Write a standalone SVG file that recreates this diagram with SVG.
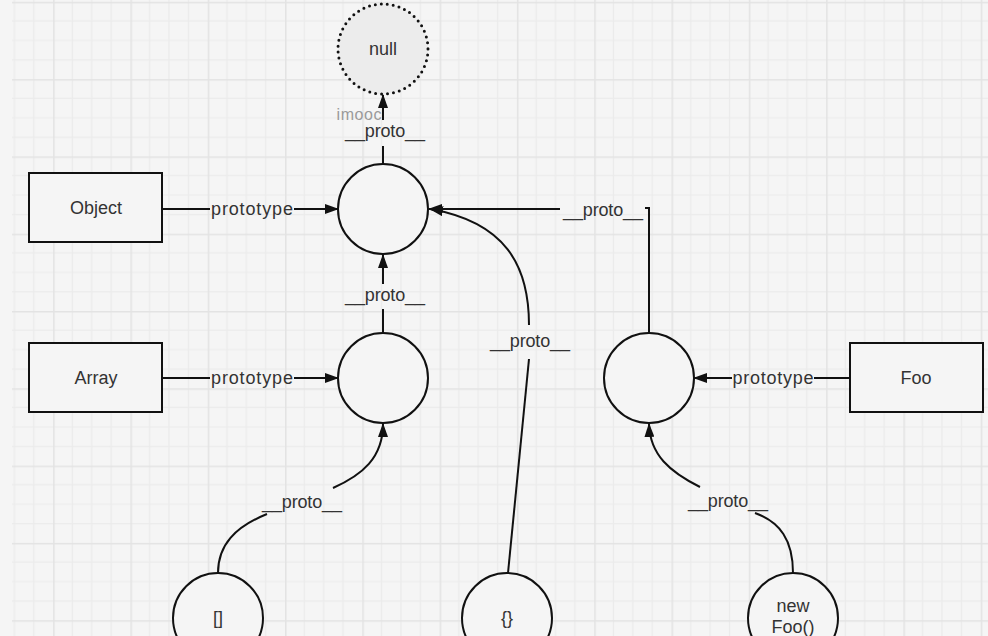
<svg xmlns="http://www.w3.org/2000/svg" width="988" height="636" viewBox="0 0 988 636">
  <defs>
    <pattern id="grid" patternUnits="userSpaceOnUse" x="-24.2" y="1.8" width="77.3" height="77.3">
      <rect width="77.3" height="77.3" fill="#f5f5f5"/>
      <path d="M19.3 0V77.3M38.65 0V77.3M58 0V77.3M0 19.3H77.3M0 38.65H77.3M0 58H77.3" stroke="#ebebeb" stroke-width="1.2" fill="none"/>
      <path d="M0.75 0V77.3M0 0.75H77.3" stroke="#e3e3e3" stroke-width="1.5" fill="none"/>
    </pattern>
    <marker id="ah" viewBox="0 0 14 10" refX="13" refY="5" markerWidth="14" markerHeight="10" orient="auto" markerUnits="userSpaceOnUse">
      <path d="M0,0 L14,5 L0,10 z" fill="#111"/>
    </marker>
  </defs>
  <style>
    .node { fill: #f5f5f5; stroke: #111; stroke-width: 2; }
    .txt { font-family: "Liberation Sans", Arial, "Noto Sans", sans-serif; font-size: 18px; fill: #333; text-anchor: middle; }
    .lbl { font-family: "Liberation Sans", Arial, "Noto Sans", sans-serif; font-size: 18px; fill: #333; text-anchor: middle; }
    .edge { fill: none; stroke: #111; stroke-width: 2; }
  </style>

  <rect x="0" y="0" width="988" height="636" fill="#f5f5f5"/>
  <rect x="12" y="0" width="976" height="636" fill="url(#grid)"/>

  <g id="connectors">
    <!-- Object -> Object.prototype -->
    <path class="edge" d="M162 209H210"/>
    <path class="edge" d="M294 209H338" marker-end="url(#ah)"/>
    <text class="lbl" x="252" y="215" textLength="82">prototype</text>
    <!-- Array -> Array.prototype -->
    <path class="edge" d="M162 378H210"/>
    <path class="edge" d="M294 378H338" marker-end="url(#ah)"/>
    <text class="lbl" x="252" y="384" textLength="82">prototype</text>
    <!-- Foo -> Foo.prototype -->
    <path class="edge" d="M850 378H814"/>
    <path class="edge" d="M732 378H694" marker-end="url(#ah)"/>
    <text class="lbl" x="773" y="384" textLength="81">prototype</text>
    <!-- Object.prototype -> null -->
    <path class="edge" d="M383 164V146"/>
    <path class="edge" d="M383 120V95" marker-end="url(#ah)"/>
    <text class="lbl" x="385" y="137" textLength="80">__proto__</text>
    <!-- Array.prototype -> Object.prototype -->
    <path class="edge" d="M383 333V309"/>
    <path class="edge" d="M383 284V255" marker-end="url(#ah)"/>
    <text class="lbl" x="385" y="301" textLength="80">__proto__</text>
    <!-- Foo.prototype -> Object.prototype -->
    <path class="edge" d="M649 333V208H645"/>
    <path class="edge" d="M560 209H429" marker-end="url(#ah)"/>
    <text class="lbl" x="603" y="216" textLength="80">__proto__</text>
    <!-- {} -> Object.prototype -->
    <path class="edge" d="M508 573L529 359"/>
    <path class="edge" d="M529 325C529 265 505 222 430 209" marker-end="url(#ah)"/>
    <text class="lbl" x="530" y="347" textLength="80">__proto__</text>
    <!-- [] -> Array.prototype -->
    <path class="edge" d="M218 573C218 545 235 527 267 514"/>
    <path class="edge" d="M333 488C362 475 383 458 383 424" marker-end="url(#ah)"/>
    <text class="lbl" x="302" y="508" textLength="80">__proto__</text>
    <!-- new Foo() -> Foo.prototype -->
    <path class="edge" d="M793 573C793 540 780 522 755 513"/>
    <path class="edge" d="M700 487C670 472 650 455 649 424" marker-end="url(#ah)"/>
    <text class="lbl" x="728" y="507" textLength="80">__proto__</text>
  </g>

  <g id="null">
    <circle cx="383" cy="49" r="45" fill="#ececec" stroke="#111" stroke-width="3" stroke-dasharray="0 6" stroke-linecap="round"/>
    <text class="txt" x="383" y="55">null</text>
  </g>
  <g id="object">
    <rect class="node" x="29" y="173" width="133" height="69"/>
    <text class="txt" x="96" y="214">Object</text>
  </g>
  <g id="array">
    <rect class="node" x="29" y="343" width="133" height="69"/>
    <text class="txt" x="96" y="384">Array</text>
  </g>
  <g id="foo">
    <rect class="node" x="850" y="343" width="133" height="69"/>
    <text class="txt" x="916" y="384">Foo</text>
  </g>
  <g id="object-prototype">
    <circle class="node" cx="383" cy="209" r="45"/>
  </g>
  <g id="array-prototype">
    <circle class="node" cx="383" cy="378" r="45"/>
  </g>
  <g id="foo-prototype">
    <circle class="node" cx="649" cy="378" r="45"/>
  </g>
  <g id="array-instance">
    <circle class="node" cx="218" cy="618" r="45"/>
    <text class="txt" x="218" y="624">[]</text>
  </g>
  <g id="object-instance">
    <circle class="node" cx="507" cy="618" r="45"/>
    <text class="txt" x="507" y="624">{}</text>
  </g>
  <g id="foo-instance">
    <circle class="node" cx="793" cy="618" r="45"/>
    <text class="txt" x="793" y="612">new</text>
    <text class="txt" x="793" y="633">Foo()</text>
  </g>

  <text x="359" y="120" font-family="'Liberation Sans', Arial, sans-serif" font-size="16" fill="#9a9a9a" text-anchor="middle" textLength="45">imooc</text>
</svg>
